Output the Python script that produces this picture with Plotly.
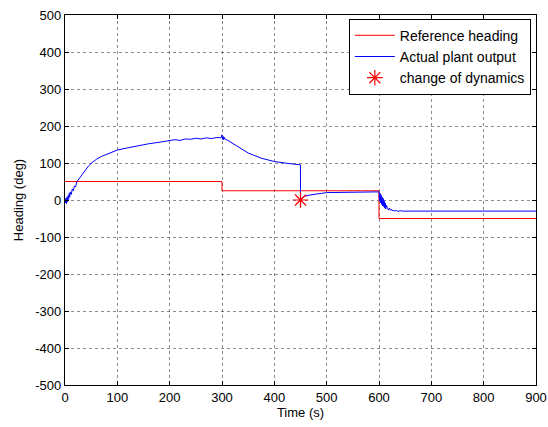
import plotly.graph_objects as go

# Reference heading (step signal)
ref_t = [0, 300, 300, 600, 600, 900]
ref_h = [50, 50, 25, 25, -50, -50]

# Actual plant output
act_t = [0, 1, 2, 3, 4, 5, 6, 7, 8, 9, 10, 12, 14, 16, 18, 20, 23, 26, 30, 35, 40, 45, 50, 55,
         60, 70, 80, 90, 100, 120, 140, 160, 180, 200, 210, 220, 230, 240, 250, 260, 270, 280, 290, 298,
         300, 301, 302, 303, 304, 305, 310, 325, 350, 375, 400, 425, 449.9,
         450, 452, 455, 460, 470, 480, 490, 500, 550, 599.9,
         600, 601, 602, 603, 604, 605, 606, 607, 608, 609, 610, 611, 612, 613, 614,
         616, 618, 620, 622, 624, 626, 628, 630, 633, 636, 640, 645, 900]
act_h = [0, -8, 5, -10, 8, -5, 12, 2, 18, 8, 22, 15, 30, 25, 38, 35, 50, 56, 64, 74, 83, 92, 99, 105,
         110, 118, 124, 130, 135, 141, 147, 152, 156, 160, 163, 161, 165, 164, 167, 165, 168, 166, 169, 168,
         176, 164, 172, 163, 170, 165, 162, 149, 127, 113, 104, 99, 95,
         0, 5, 8, 11, 14, 17, 18, 20, 20, 20,
         22, -2, 18, -8, 14, -12, 8, -16, 4, -18, -2, -22, -8, -24, -14,
         -20, -27, -22, -28, -25, -30, -27, -30, -28, -31, -29, -30, -30]

# Change of dynamics marker
chg_t = [450]
chg_h = [0]

# Tick labels
x_ticks = [0, 100, 200, 300, 400, 500, 600, 700, 800, 900]
y_ticks = [-500, -400, -300, -200, -100, 0, 100, 200, 300, 400, 500]
y_labels = ["-500", "-400", "-300", "-200", "-100", "0", "100", "200", "300", "400", "500"]

fig = go.Figure()
fig.add_trace(go.Scatter(x=ref_t, y=ref_h, mode="lines", name="Reference heading",
                         line=dict(color="#ff0000", width=1)))
fig.add_trace(go.Scatter(x=act_t, y=act_h, mode="lines", name="Actual plant output",
                         line=dict(color="#0000ff", width=1)))
fig.add_trace(go.Scatter(x=chg_t, y=chg_h, mode="markers", name="change of dynamics",
                         marker=dict(symbol="asterisk-open", size=13, color="#ff0000",
                                     line=dict(color="#ff0000", width=1.2))))

axis_common = dict(showline=True, linecolor="black", linewidth=1.2, mirror="ticks",
                   ticks="inside", ticklen=4, tickcolor="black", automargin=False,
                   showgrid=True, gridcolor="rgba(0,0,0,0.45)", griddash="dot", gridwidth=1,
                   zeroline=False, tickfont=dict(family="Liberation Sans, Arial", size=13, color="black"))

fig.update_layout(
    width=548, height=427,
    margin=dict(l=65, r=12, t=15, b=42),
    paper_bgcolor="white", plot_bgcolor="white",
    font=dict(family="Liberation Sans, Arial", size=13, color="black"),
    xaxis=dict(range=[0, 900], tickvals=x_ticks,
               title=dict(text="Time (s)", standoff=2, font=dict(size=13)), **axis_common),
    yaxis=dict(range=[-500, 500], tickvals=y_ticks, ticktext=y_labels,
               title=dict(text="Heading (deg)", standoff=8, font=dict(size=13)), **axis_common),
    legend=dict(x=0.989, y=0.99, xanchor="right", yanchor="top",
                bgcolor="white", bordercolor="black", borderwidth=1,
                font=dict(size=14), itemwidth=40, tracegroupgap=0),
    showlegend=True,
)

fig.write_html("out.html")
